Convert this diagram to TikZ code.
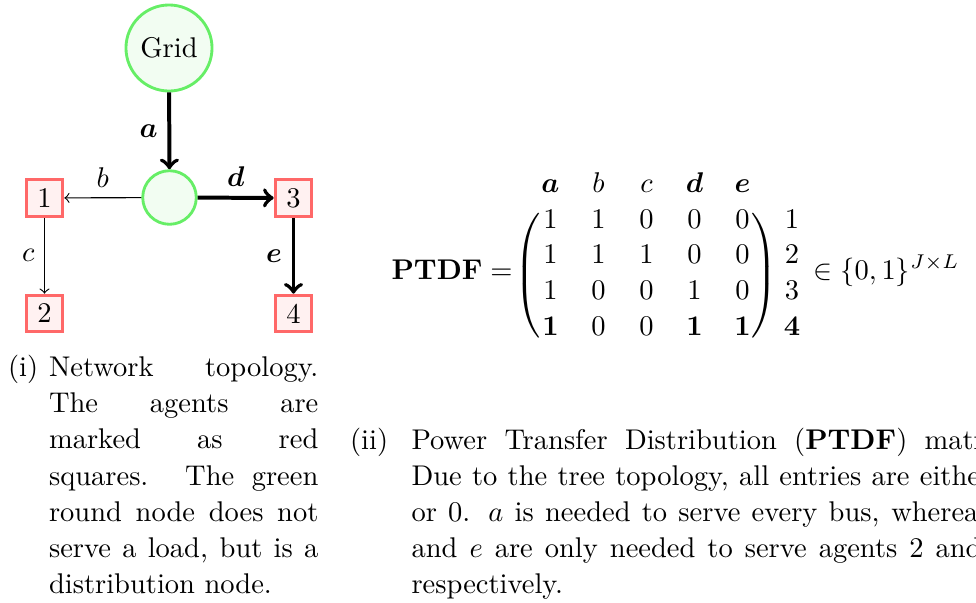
\documentclass[tikz,border=0pt]{standalone}
\usepackage{amsmath}
\usepackage{graphicx}

\definecolor{busline}{RGB}{102,238,102}
\definecolor{busfill}{RGB}{242,253,242}
\definecolor{agentline}{RGB}{255,104,104}
\definecolor{agentfill}{RGB}{255,241,241}

\tikzset{
  bus/.style={circle, draw=busline, fill=busfill, line width=1pt},
  agent/.style={rectangle, draw=agentline, fill=agentfill, line width=1pt,
                minimum size=12.9pt, inner sep=1pt},
  flow/.style={->, line width=1.4pt},
  flowthin/.style={->, thin},
  cell/.style={inner sep=0pt, anchor=base},
  captext/.style={inner sep=0pt, anchor=base west},
  paren/.style={inner sep=0pt},
}

% delimiter of fixed total height, without null-delimiter padding
\newcommand{\fixdelim}[2]{{\nulldelimiterspace=0pt
  \resizebox*{!}{44pt}{$\left#1\vcenter{\hbox{\rule{0pt}{40pt}}}\right#2$}}}

\begin{document}
\begin{tikzpicture}[x=0.35088pt, y=-0.35088pt]
\useasboundingbox (0,0) rectangle (976,603);
\clip (0,0) rectangle (976,603);

% ---- network topology ----
\node[bus] (grid) at (169,48) {Grid};
\node[bus, minimum size=18.8pt] (hub) at (169.5,197.5) {};
\node[agent] (n1) at (44.5,198) {1};
\node[agent] (n2) at (44.5,313.5) {2};
\node[agent] (n3) at (293.5,198) {3};
\node[agent] (n4) at (293.5,313.5) {4};

\draw[flow] (grid) -- node (la) [left] {$\boldsymbol{a}$} (hub);
\draw[flowthin] (hub) -- node (lb) [above] {$b$} (n1);
\draw[flowthin] (n1) -- node (lc) [left] {$c$} (n2);
\draw[flow] (hub) -- node (ld) [above] {$\boldsymbol{d}$} (n3);
\draw[flow] (n3) -- node (le) [left] {$\boldsymbol{e}$} (n4);

% ---- PTDF matrix ----
\node[captext] (ptdf) at (391,279) {$\mathbf{PTDF} =$};

\foreach \v [count=\j] in {\boldsymbol{a},b,c,\boldsymbol{d},\boldsymbol{e}}
  \node[cell] (h\j) at ({550.5+48*(\j-1)},192) {$\v$};

\foreach \v [count=\j] in {1,1,0,0,0}
  \node[cell] (m1\j) at ({550.5+48*(\j-1)},228) {$\v$};
\foreach \v [count=\j] in {1,1,1,0,0}
  \node[cell] (m2\j) at ({550.5+48*(\j-1)},263.7) {$\v$};
\foreach \v [count=\j] in {1,0,0,1,0}
  \node[cell] (m3\j) at ({550.5+48*(\j-1)},299.3) {$\v$};
\foreach \v [count=\j] in {\mathbf{1},0,0,\mathbf{1},\mathbf{1}}
  \node[cell] (m4\j) at ({550.5+48*(\j-1)},335) {$\v$};

\foreach \v [count=\i] in {1,2,3,\mathbf{4}}
  \node[cell] (r\i) at (792,{228+35.67*(\i-1)}) {$\v$};

\node[paren, anchor=east] (lp) at (541,275.5) {\fixdelim{(}{.}};
\node[paren, anchor=west] (rp) at (751,275.5) {\fixdelim{.}{)}};

\node[captext] (set) at (813,279) {$\in\{0,1\}^{J\times L}$};

% ---- captions ----
\node[captext] (capi) at (7.5,376.5) {(i)};
\node[captext] (capitext) at (48.5,376.5) {\parbox[t]{94.5pt}{%
  \fontsize{10}{12.7}\selectfont
  Network topology.\linebreak
  The agents are\linebreak
  marked as red\linebreak
  squares. The green\linebreak
  round node does not\linebreak
  serve a load, but is a\linebreak
  distribution node.}};

\node[captext] (capii) at (349.5,449) {(ii)};
\node[captext] (capiitext) at (411,449) {\parbox[t]{212pt}{%
  \fontsize{10}{12.7}\selectfont
  Power Transfer Distribution (\textbf{PTDF}) matrix.\linebreak
  Due to the tree topology, all entries are either 1\linebreak
  or 0. $a$ is needed to serve every bus, whereas $d$\linebreak
  and $e$ are only needed to serve agents 2 and 4,\linebreak
  respectively.}};
\end{tikzpicture}
\end{document}
